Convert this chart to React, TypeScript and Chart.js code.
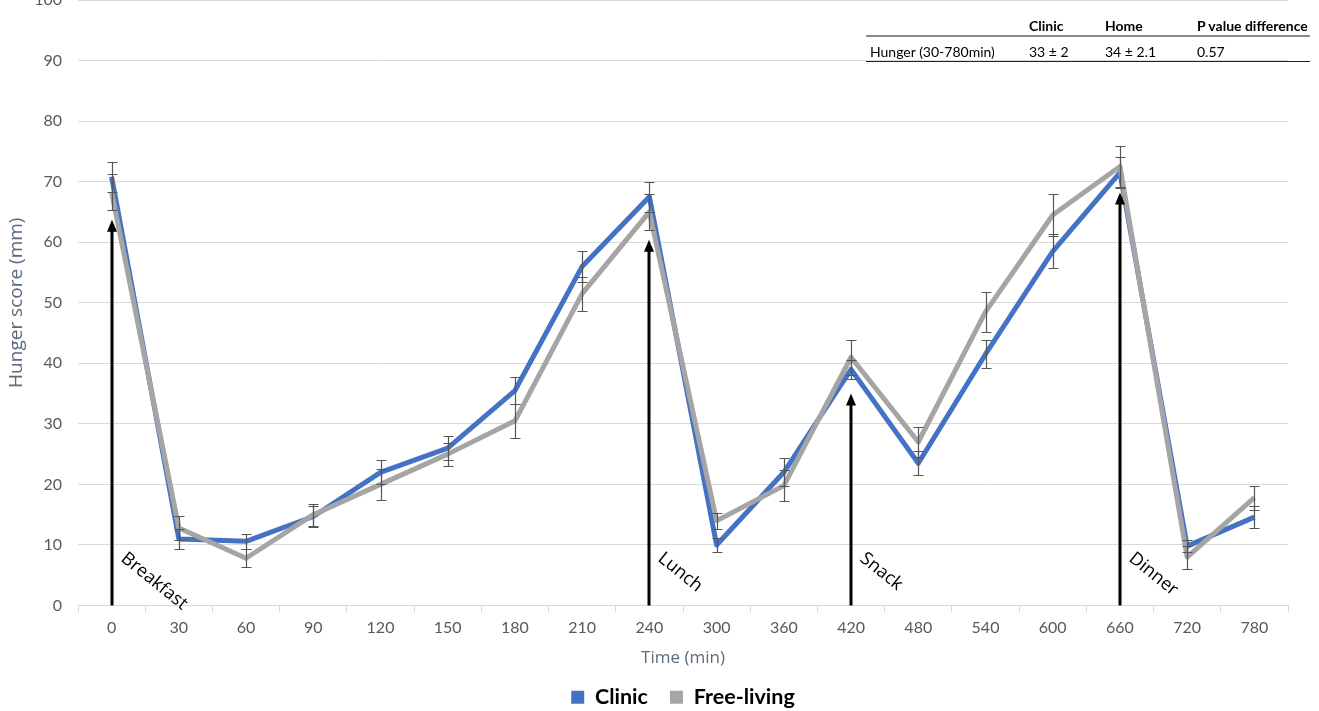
import React, { useEffect, useRef } from 'react';
import { Chart, registerables } from 'chart.js';

Chart.register(...registerables);

const timeLabels = ['0', '30', '60', '90', '120', '150', '180', '210', '240', '300', '360', '420', '480', '540', '600', '660', '720', '780'];
const clinicValues = [70.8, 11.0, 10.6, 14.7, 22.0, 26.0, 35.5, 56.0, 67.5, 10.0, 22.0, 39.0, 23.5, 41.5, 58.5, 71.5, 9.8, 14.6];
const clinicErrors = [2.5, 1.6, 1.2, 1.7, 2.0, 2.0, 2.3, 2.6, 2.5, 1.2, 2.3, 1.6, 2.0, 2.3, 2.8, 2.5, 1.0, 1.8];
const freeLivingValues = [68.3, 12.8, 7.8, 15.0, 20.0, 25.0, 30.5, 51.5, 65.0, 14.0, 19.8, 41.0, 27.0, 48.5, 64.5, 72.5, 8.0, 17.8];
const freeLivingErrors = [3.0, 1.9, 1.5, 1.8, 2.5, 1.9, 2.8, 2.8, 3.0, 1.3, 2.6, 2.9, 2.5, 3.3, 3.4, 3.4, 1.9, 2.0];

const mealNames = ['Breakfast', 'Lunch', 'Snack', 'Dinner'];
const mealTimes = ['0', '240', '420', '660'];
const mealArrowTops = [63.7, 60.4, 35.0, 68.2];

const yMin = 0;
const yMax = 100;
const yStep = 10;

const tableHeader = ['', 'Clinic', 'Home', 'P value difference'];
const tableRow = ['Hunger (30-780min)', '33 ± 2', '34 ± 2.1', '0.57'];
const tableColumnLeft = [870, 1029, 1105, 1197];

const overlayPlugin = {
  id: 'overlay',
  afterDatasetsDraw(chart: any) {
    const { ctx } = chart;
    const x = chart.scales.x;
    const y = chart.scales.y;
    ctx.save();
    // error bars
    ctx.strokeStyle = '#555555';
    ctx.lineWidth = 1.2;
    const series: [number[], number[]][] = [
      [clinicValues, clinicErrors],
      [freeLivingValues, freeLivingErrors],
    ];
    for (const [vals, errs] of series) {
      vals.forEach((v, i) => {
        const px = Math.round(x.getPixelForValue(i)) + 0.5;
        const t = Math.round(y.getPixelForValue(v + errs[i])) + 0.5;
        const b = Math.round(y.getPixelForValue(v - errs[i])) + 0.5;
        ctx.beginPath();
        ctx.moveTo(px, t);
        ctx.lineTo(px, b);
        ctx.moveTo(px - 5, t);
        ctx.lineTo(px + 5, t);
        ctx.moveTo(px - 5, b);
        ctx.lineTo(px + 5, b);
        ctx.stroke();
      });
    }
    // meal arrows and labels
    mealTimes.forEach((t, k) => {
      const idx = timeLabels.indexOf(t);
      const px = Math.round(x.getPixelForValue(idx));
      const base = y.getPixelForValue(0);
      const tip = y.getPixelForValue(mealArrowTops[k]);
      ctx.strokeStyle = '#000000';
      ctx.lineWidth = 3;
      ctx.beginPath();
      ctx.moveTo(px, base);
      ctx.lineTo(px, tip + 10);
      ctx.stroke();
      ctx.fillStyle = '#000000';
      ctx.beginPath();
      ctx.moveTo(px, tip);
      ctx.lineTo(px - 5, tip + 12);
      ctx.lineTo(px + 5, tip + 12);
      ctx.closePath();
      ctx.fill();
      ctx.save();
      ctx.translate(px + 17, y.getPixelForValue(9.3));
      ctx.rotate((39 * Math.PI) / 180);
      ctx.font = '18px "Open Sans"';
      ctx.textBaseline = 'top';
      ctx.textAlign = 'left';
      ctx.fillStyle = '#000000';
      ctx.fillText(mealNames[k], 0, 0);
      ctx.restore();
    });
    ctx.restore();
  },
};

export default function App() {
  const canvasRef = useRef<HTMLCanvasElement | null>(null);

  useEffect(() => {
    if (!canvasRef.current) return;
    Chart.defaults.font.family = 'Lato';
    const chart = new Chart(canvasRef.current, {
      type: 'line',
      data: {
        labels: timeLabels,
        datasets: [
          {
            label: 'Clinic',
            data: clinicValues,
            borderColor: '#4472C4',
            backgroundColor: '#4472C4',
            borderWidth: 5,
            pointRadius: 0,
            tension: 0,
            borderJoinStyle: 'round',
            order: 2,
          },
          {
            label: 'Free-living',
            data: freeLivingValues,
            borderColor: '#A5A5A5',
            backgroundColor: '#A5A5A5',
            borderWidth: 5,
            pointRadius: 0,
            tension: 0,
            borderJoinStyle: 'round',
            order: 1,
          },
        ],
      },
      options: {
        animation: false,
        responsive: true,
        maintainAspectRatio: false,
        layout: { padding: { top: 30, right: 31, left: 0, bottom: 0 } },
        plugins: {
          tooltip: { enabled: false },
          legend: {
            position: 'bottom',
            fullSize: false,
            labels: {
              boxWidth: 13,
              boxHeight: 13,
              padding: 22,
              color: '#000000',
              font: { size: 21.5, weight: 'bold' },
              generateLabels(c: any) {
                const items = (Chart.defaults.plugins.legend.labels as any).generateLabels(c);
                items.forEach((it: any) => {
                  it.lineWidth = 0;
                });
                return items.sort((a: any, b: any) => a.datasetIndex - b.datasetIndex);
              },
            },
          },
        },
        scales: {
          x: {
            type: 'category',
            offset: true,
            grid: { offset: true, drawOnChartArea: false, color: '#d9d9d9', tickLength: 7 },
            border: { color: '#d9d9d9' },
            ticks: { color: '#595959', font: { size: 16 }, padding: 6, maxRotation: 0, autoSkip: false },
            title: {
              display: true,
              text: 'Time (min)',
              color: '#5b6a7d',
              font: { size: 17, family: 'Open Sans' },
              padding: { top: 0, bottom: -4 },
            },
            afterFit(scale: any) {
              scale.height = 59;
            },
          },
          y: {
            min: yMin,
            max: yMax,
            ticks: { stepSize: yStep, color: '#595959', font: { size: 16 }, padding: 16 },
            grid: { color: '#d9d9d9', drawTicks: false },
            border: { display: false },
            title: {
              display: true,
              text: 'Hunger score (mm)',
              color: '#5b6a7d',
              font: { size: 19, family: 'Open Sans' },
              padding: { top: 5, bottom: 0 },
            },
            afterFit(scale: any) {
              scale.width = 78;
            },
          },
        },
      },
      plugins: [overlayPlugin],
    } as any);
    return () => chart.destroy();
  }, []);

  const cell = (text: string, left: number, top: number, bold: boolean) => (
    <span
      key={`${text}-${left}-${top}`}
      style={{
        position: 'absolute',
        left,
        top,
        fontFamily: 'Lato',
        fontSize: 14,
        fontWeight: bold ? 700 : 400,
        color: '#000',
        whiteSpace: 'nowrap',
        lineHeight: '16px',
      }}
    >
      {text}
    </span>
  );

  return (
    <div>
      <div style={{ position: 'fixed', left: 0, top: -30, width: 1319, height: 748 }}>
        <canvas ref={canvasRef} />
      </div>
      <div style={{ position: 'fixed', left: 0, top: 0, width: 1319, height: 80, pointerEvents: 'none' }}>
        {tableHeader.map((t, i) => (t ? cell(t, tableColumnLeft[i], 18, true) : null))}
        <div style={{ position: 'absolute', left: 866, top: 35, width: 444, height: 2, background: '#8a8a8a' }} />
        {tableRow.map((t, i) => cell(t, tableColumnLeft[i], 44, false))}
        <div style={{ position: 'absolute', left: 866, top: 61, width: 444, height: 1, background: '#222' }} />
      </div>
    </div>
  );
}
